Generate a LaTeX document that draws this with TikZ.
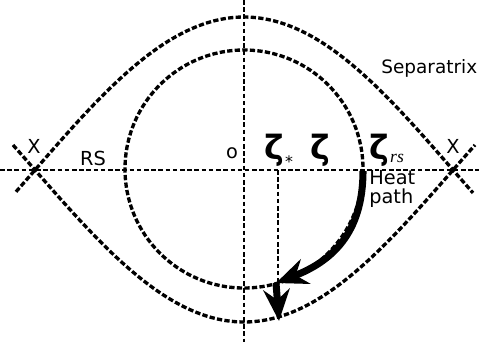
\documentclass[tikz,border=0pt]{standalone}
\usepackage{fontspec}
\setmainfont{DejaVu Sans}
\newfontfamily\rsfont{Liberation Serif}
\usetikzlibrary{arrows.meta}
\tikzset{
  % thin dashed axes
  axis/.style={line width=0.8pt,dash pattern=on 2.6pt off 1.5pt},
  % thick dotted orbits
  orbit/.style={line width=1.9pt,dash pattern=on 3pt off 1.3pt},
  % heat path arrows
  heat/.style={line width=4pt,-{Stealth[length=18pt,width=15pt,inset=6pt]}},
  lbl/.style={font=\fontsize{11}{10.4}\selectfont,inner sep=0pt},
  zlbl/.style={font=\fontsize{19}{19}\selectfont\bfseries,inner sep=0pt},
  sublbl/.style={font=\fontsize{9}{9}\selectfont,inner sep=0pt},
}

\begin{document}
\begin{tikzpicture}[x=0.02cm,y=-0.02cm]
  \useasboundingbox (0,0) rectangle (479,342);

  % key points
  \coordinate (O) at (244,170);
  \coordinate (axL) at (0,170);
  \coordinate (axR) at (479,170);
  \coordinate (axT) at (244,0);
  \coordinate (axB) at (244,342);
  \coordinate (zs) at (278,170);
  \coordinate (zsB) at (278,283);
  \coordinate (zrs) at (363,171);
  \coordinate (hp) at (276,283);
  \coordinate (hpB) at (279,321);

  % axes
  \draw[axis] (axL) -- (axR);
  \draw[axis] (axT) -- (axB);
  \draw[axis] (zs) -- (zsB);

  % separatrix
  \draw[orbit] plot[domain=-228:229,samples=120,smooth]
    ({244+\x},{170-153*cos(\x*0.43062)});
  \draw[orbit] plot[domain=-231:231,samples=120,smooth]
    ({244+\x},{170+152*cos(\x*0.43062)});

  % RS orbit
  \draw[orbit] (O) ++(0,-1) circle[radius=119];

  % heat path
  \draw[heat] (zrs) .. controls (363,235) and (330,262) .. (hp);
  \draw[heat] (hp) -- (hpB);

  % labels
  \node[lbl,anchor=base] (xl) at (34,153) {X};
  \node[lbl,anchor=base] (xr) at (453,153) {X};
  \node[lbl,anchor=base] (rs) at (93,165) {RS};
  \node[lbl,anchor=base] (o) at (232,158) {o};
  \node[lbl,anchor=base west,font=\fontsize{10.5}{10.5}\selectfont] (sep) at (381,73) {Separatrix};
  \node[lbl,anchor=base west,align=left] (heatlbl) at (369,203) {Heat\\path};

  \node[zlbl] (zstar) at (274,150) {ζ};
  \node[sublbl] (star) at (289,162) {*};
  \node[zlbl] (zeta) at (320,150) {ζ};
  \node[zlbl] (zetars) at (379,150) {ζ};
  \node[font=\rsfont\itshape\fontsize{10}{10}\selectfont,inner sep=0pt] (rssub) at (397,158) {rs};
\end{tikzpicture}
\end{document}
